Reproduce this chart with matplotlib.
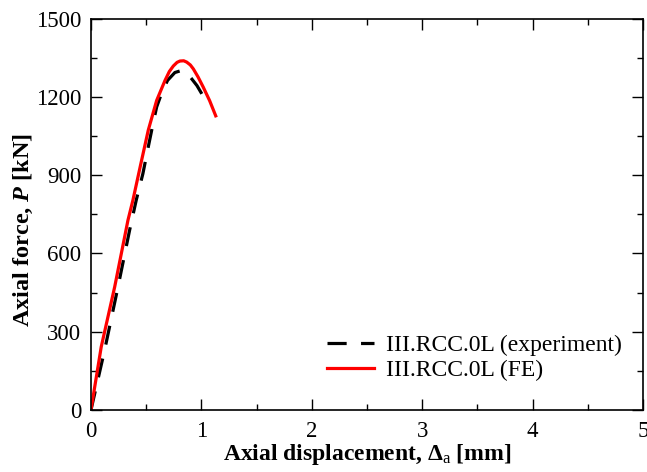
import numpy as np
import matplotlib
matplotlib.use("Agg")
from matplotlib import pyplot as plt
from matplotlib.ticker import MultipleLocator

# experiment curve
exp_disp = [0.0, 0.124, 0.245, 0.350, 0.410, 0.470, 0.519, 0.565, 0.595, 0.645, 0.694, 0.760, 0.821, 0.870, 0.912, 0.960, 1.003, 1.063]
exp_force = [0, 230, 472, 689, 804, 905, 1008, 1103, 1161, 1220, 1263, 1293, 1301, 1290, 1269, 1243, 1212, 1167]

# FE curve
fe_disp = [0.0, 0.093, 0.215, 0.335, 0.380, 0.450, 0.519, 0.595, 0.670, 0.710, 0.746, 0.780, 0.806, 0.840, 0.867, 0.900, 0.927, 0.970, 1.017, 1.075, 1.130]
fe_force = [0, 242, 472, 727, 804, 940, 1072, 1186, 1262, 1297, 1318, 1332, 1337, 1338, 1333, 1322, 1307, 1276, 1237, 1185, 1127]

plt.rcParams["font.family"] = ["Liberation Serif", "DejaVu Serif"]
plt.rcParams["mathtext.fontset"] = "custom"
plt.rcParams["mathtext.rm"] = "Liberation Serif"
plt.rcParams["mathtext.bf"] = "Liberation Serif:bold"
plt.rcParams["mathtext.it"] = "Liberation Serif:italic"
plt.rcParams["mathtext.bfit"] = "Liberation Serif:italic:bold"

fig = plt.figure(figsize=(6.47, 4.72), dpi=100)
ax = fig.add_axes([0.1406, 0.1314, 0.8532, 0.8294])

ax.plot(exp_disp, exp_force, color="black", linestyle=(0, (6, 4.5)), linewidth=2.3,
        label="III.RCC.0L (experiment)")
ax.plot(fe_disp, fe_force, color="red", linewidth=2.3, label="III.RCC.0L (FE)")

ax.set_xlim(0, 5)
ax.set_ylim(0, 1500)
ax.xaxis.set_major_locator(MultipleLocator(1))
ax.xaxis.set_minor_locator(MultipleLocator(0.5))
ax.yaxis.set_major_locator(MultipleLocator(300))
ax.yaxis.set_minor_locator(MultipleLocator(150))
ax.tick_params(which="both", direction="in", top=True, right=True, labelsize=16.5, width=1)
ax.tick_params(which="major", length=8)
ax.tick_params(which="minor", length=4)
ax.tick_params(axis="x", which="major", pad=8)
ax.tick_params(axis="y", which="major", pad=7)
for s in ax.spines.values():
    s.set_linewidth(1.2)

ax.set_xlabel(r"Axial displacement, $\mathbf{\Delta}_{\rm a}$ [mm]", fontsize=17, fontweight="bold", labelpad=0)
ax.set_ylabel(r"Axial force, $\mathbfit{P}$ [kN]", fontsize=17.5, fontweight="bold")
ax.yaxis.set_label_coords(-0.101, 0.46)

ax.legend(loc="lower right", bbox_to_anchor=(1.0, 0.02), frameon=False, fontsize=17,
          handlelength=2.0, handletextpad=0.5, labelspacing=0.15)

fig.savefig("out.png", dpi=100)
